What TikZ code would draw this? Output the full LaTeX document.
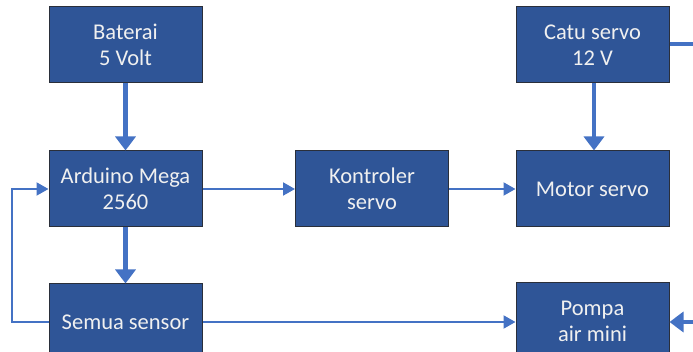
\documentclass[tikz,border=0pt]{standalone}
\usepackage{fontspec}
\setmainfont{Carlito}
\usetikzlibrary{arrows.meta}
\definecolor{boxfill}{HTML}{2F5597}
\definecolor{boxline}{HTML}{2A2F3A}
\definecolor{arr}{HTML}{4472C4}
\definecolor{txt}{HTML}{F0F0F0}
\begin{document}
\begin{tikzpicture}[x=1pt,y=-1pt,
  blk/.style={draw=boxline,line width=1pt,fill=boxfill,minimum width=153pt,minimum height=76pt,
    inner sep=0pt,align=center,text=txt,font=\fontsize{22.5}{26}\selectfont},
  thin/.style={draw=arr,line width=2pt,-{Triangle[length=12pt,width=13pt]}},
  thick/.style={draw=arr,line width=4.5pt,-{Triangle[length=14pt,width=20pt]}},
  plain/.style={draw=arr,line width=4.5pt}]
\clip (0,0) rectangle (693,352);
\useasboundingbox (0,0) rectangle (693,352);
\node[blk] (bat) at (125.5,44.5) {Baterai\\5 Volt};
\node[blk] (catu) at (592.5,45) {Catu servo\\12 V};
\node[blk] (ard) at (125.5,189) {Arduino Mega\\2560};
\node[blk] (kon) at (372,189) {Kontroler\\servo};
\node[blk] (mot) at (592.5,189) {Motor servo};
\node[blk] (sen) at (125.5,322) {Semua sensor};
\node[blk] (pom) at (592.5,321) {Pompa\\air mini};
\coordinate (re1) at (700,44);
\coordinate (re2) at (700,322);
\coordinate (lx1) at (12,322);
\coordinate (lx2) at (12,189);
\draw[thick] (bat) -- (ard);
\draw[thick] (ard) -- (sen);
\draw[thick] (catu.south -| 594,0) -- (mot.north -| 594,0);
\draw[thin] (ard) -- (kon);
\draw[thin] (kon) -- (mot);
\draw[thin] (sen.east) -- (pom.west |- sen.east);
\draw[thin] (sen.west) -- (lx1) -- (lx2) -- (ard.west);
\draw[plain] (catu.east |- re1) -- (re1);
\draw[thick] (re2) -- (pom.east |- re2);
\end{tikzpicture}
\end{document}
